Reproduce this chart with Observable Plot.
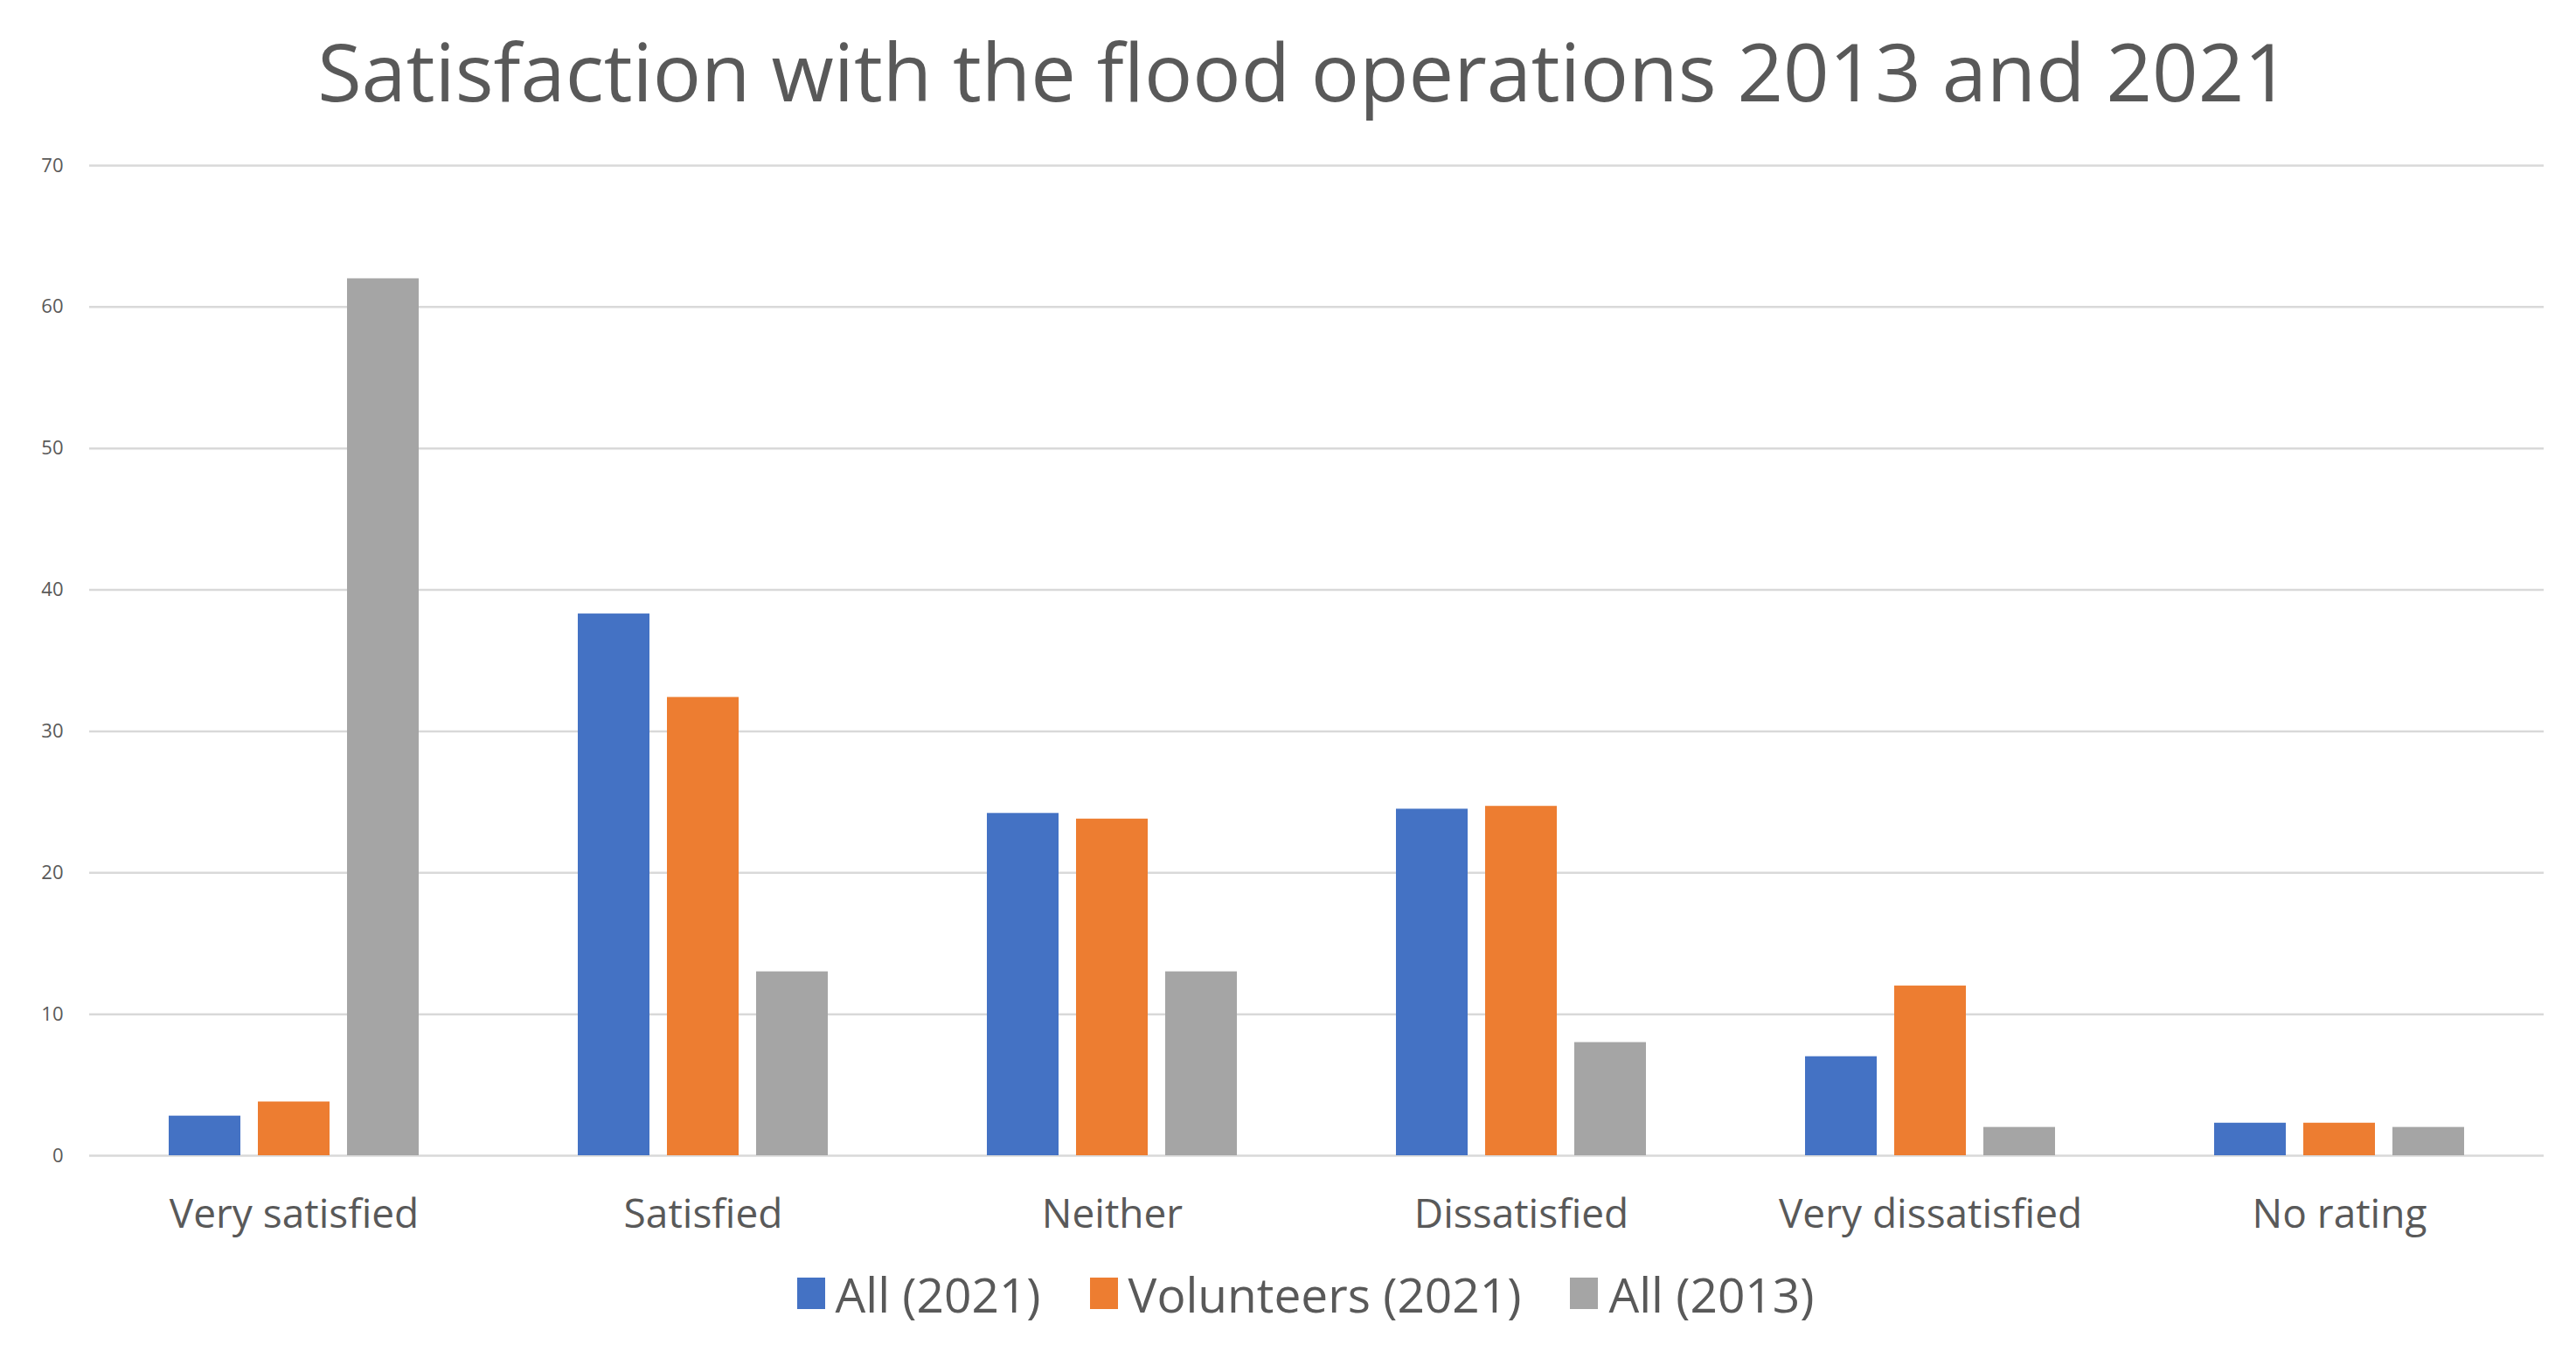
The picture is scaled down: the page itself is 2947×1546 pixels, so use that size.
<!DOCTYPE html>
<html>
<head>
<meta charset="utf-8">
<script src="https://cdn.jsdelivr.net/npm/d3@7"></script>
<script src="https://cdn.jsdelivr.net/npm/@observablehq/plot@0.6"></script>
<style>
  html, body { margin: 0; padding: 0; background: #fff; }
  body { width: 2947px; height: 1546px; position: relative; overflow: hidden; font-family: "Open Sans", "Noto Sans", sans-serif; }
  #title { position: absolute; left: 18px; width: 2947px; top: 26px; text-align: center; font-size: 92px; line-height: 110px; color: #595959; }
  #chart { position: absolute; left: 0; top: 150px; }
  #legend { position: absolute; left: 0; width: 2947px; top: 1428px; height: 104px; display: flex; justify-content: center; align-items: center; gap: 56px; font-size: 55px; color: #595959; padding-left: 40px; box-sizing: border-box; }
  .item { display: flex; align-items: center; gap: 12px; }
  .sw { width: 32px; height: 36px; display: inline-block; }
</style>
</head>
<body>
<div id="title">Satisfaction with the flood operations 2013 and 2021</div>
<div id="chart"></div>
<div id="legend"></div>
<script>
const categories = ["Very satisfied", "Satisfied", "Neither", "Dissatisfied", "Very dissatisfied", "No rating"];
const seriesNames = ["All (2021)", "Volunteers (2021)", "All (2013)"];
const all2021 = [2.8, 38.3, 24.2, 24.5, 7.0, 2.3];
const volunteers2021 = [3.8, 32.4, 23.8, 24.7, 12.0, 2.3];
const all2013 = [62, 13, 13, 8, 2, 2];
const seriesColors = ["#4472C4", "#ED7D31", "#A5A5A5"];
const yTicks = [0, 10, 20, 30, 40, 50, 60, 70];

const seriesValues = [all2021, volunteers2021, all2013];
const data = [];
categories.forEach((c, i) => {
  seriesNames.forEach((s, j) => {
    data.push({category: c, series: s, value: seriesValues[j][i]});
  });
});

const chart = Plot.plot({
  width: 2947,
  height: 1272,
  marginTop: 39,
  marginBottom: 100,
  marginLeft: 100,
  marginRight: 36,
  style: {fontFamily: "'Open Sans', 'Noto Sans', sans-serif", background: "#fff"},
  fx: {domain: categories, padding: 0, label: null},
  x: {domain: seriesNames, paddingInner: 0.2, paddingOuter: 0.88, axis: null},
  y: {domain: [0, 70], label: null},
  color: {domain: seriesNames, range: seriesColors},
  marks: [
    Plot.gridY({ticks: yTicks, stroke: "#d9d9d9", strokeOpacity: 1, strokeWidth: 2.5}),
    Plot.barY(data, {fx: "category", x: "series", y: "value", fill: "series"}),
    Plot.axisY({ticks: yTicks, tickSize: 0, tickPadding: 30, fontSize: 22, fill: "#595959", label: null}),
    Plot.axisFx({anchor: "bottom", tickSize: 0, tickPadding: 50, fontSize: 46, fill: "#595959", label: null})
  ]
});
document.getElementById("chart").appendChild(chart);

const legend = document.getElementById("legend");
seriesNames.forEach((s, j) => {
  const item = document.createElement("div");
  item.className = "item";
  const sw = document.createElement("span");
  sw.className = "sw";
  sw.style.background = seriesColors[j];
  const t = document.createElement("span");
  t.textContent = s;
  item.appendChild(sw);
  item.appendChild(t);
  legend.appendChild(item);
});
</script>
</body>
</html>
